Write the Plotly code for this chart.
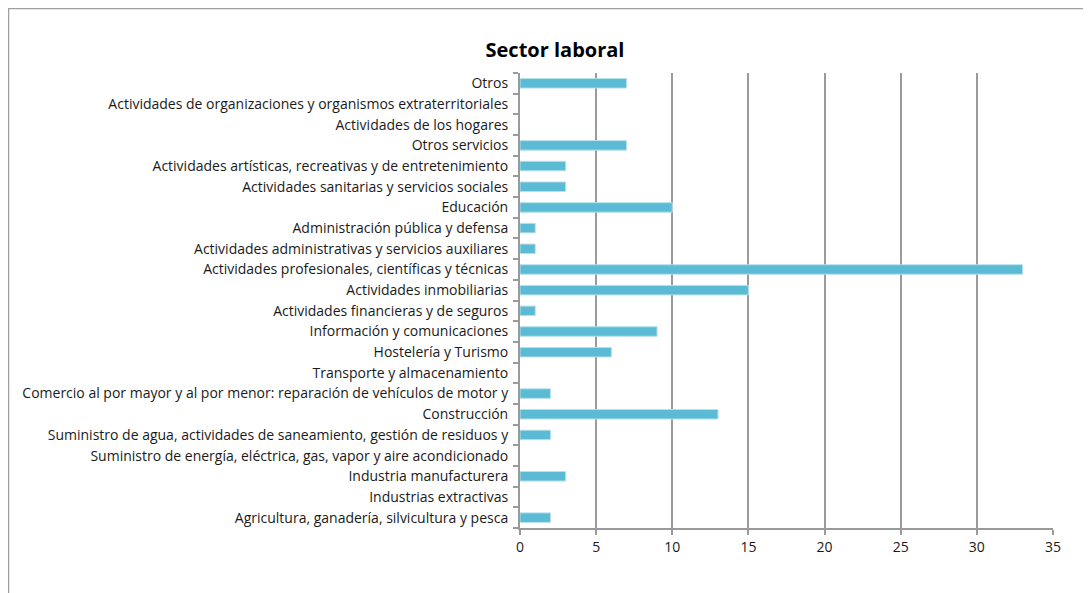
import plotly.graph_objects as go

categories = [
    "Agricultura, ganadería, silvicultura y pesca",
    "Industrias extractivas",
    "Industria manufacturera",
    "Suministro de energía, eléctrica, gas, vapor y aire acondicionado",
    "Suministro de agua, actividades de saneamiento, gestión de residuos y",
    "Construcción",
    "Comercio al por mayor y al por menor: reparación de vehículos de motor y",
    "Transporte y almacenamiento",
    "Hostelería y Turismo",
    "Información y comunicaciones",
    "Actividades financieras y de seguros",
    "Actividades inmobiliarias",
    "Actividades profesionales, científicas y técnicas",
    "Actividades administrativas y servicios auxiliares",
    "Administración pública y defensa",
    "Educación",
    "Actividades sanitarias y servicios sociales",
    "Actividades artísticas, recreativas y de entretenimiento",
    "Otros servicios",
    "Actividades de los hogares",
    "Actividades de organizaciones y organismos extraterritoriales",
    "Otros",
]
values = [2, 0, 3, 0, 2, 13, 2, 0, 6, 9, 1, 15, 33, 1, 1, 10, 3, 3, 7, 0, 0, 7]
x_ticks = [0, 5, 10, 15, 20, 25, 30, 35]

# page has an 8px body margin, so the figure starts at (8, 8)
OFF = 8
W, H = 1091 - OFF, 593 - OFF
L, R, T, B = 520 - OFF, 1053 - OFF, 73 - OFF, 528 - OFF

fig = go.Figure(go.Bar(
    x=values, y=categories, orientation="h",
    marker=dict(color="#5BBAD4",
                line=dict(color="#B7E0EC", width=[1 if v > 0 else 0 for v in values])),
    width=0.46,
))

def px(xp):
    return (xp - L) / (R - L)

def py(yp):
    return (B - yp) / (B - T)

fig.update_layout(
    width=W, height=H,
    margin=dict(l=L, r=W - R, t=T, b=H - B),
    paper_bgcolor="white", plot_bgcolor="white",
    showlegend=False,
    font=dict(family="Open Sans", size=14, color="#1a1a1a"),
    title=dict(text="<b>Sector laboral</b>", x=(555 - OFF) / W, xref="container", xanchor="center",
               y=1 - (50 - OFF) / H, yref="container", yanchor="middle",
               font=dict(family="Open Sans", size=20, color="#000000")),
    xaxis=dict(range=[0, 35], tickvals=x_ticks, showgrid=True, gridcolor="#9A9A9A", gridwidth=1.5,
               showline=True, linecolor="#9A9A9A", linewidth=2, ticks="outside", ticklen=5,
               tickcolor="#9A9A9A", tickwidth=1.5, zeroline=False, fixedrange=True,
               tickfont=dict(size=14)),
    yaxis=dict(type="category", categoryorder="array", categoryarray=categories,
               showline=True, linecolor="#9A9A9A", linewidth=2, ticks="outside", ticklen=5,
               tickcolor="#9A9A9A", tickwidth=1.5, tickson="boundaries", showgrid=False,
               zeroline=False, fixedrange=True, ticksuffix="\u2002"),
    shapes=[dict(type="rect", xref="paper", yref="paper",
                 x0=px(0.5), x1=px(1200), y0=py(0.5), y1=py(700),
                 line=dict(color="#A0A0A0", width=1.5), fillcolor="rgba(0,0,0,0)", layer="below")],
)

fig.write_html("out.html")
